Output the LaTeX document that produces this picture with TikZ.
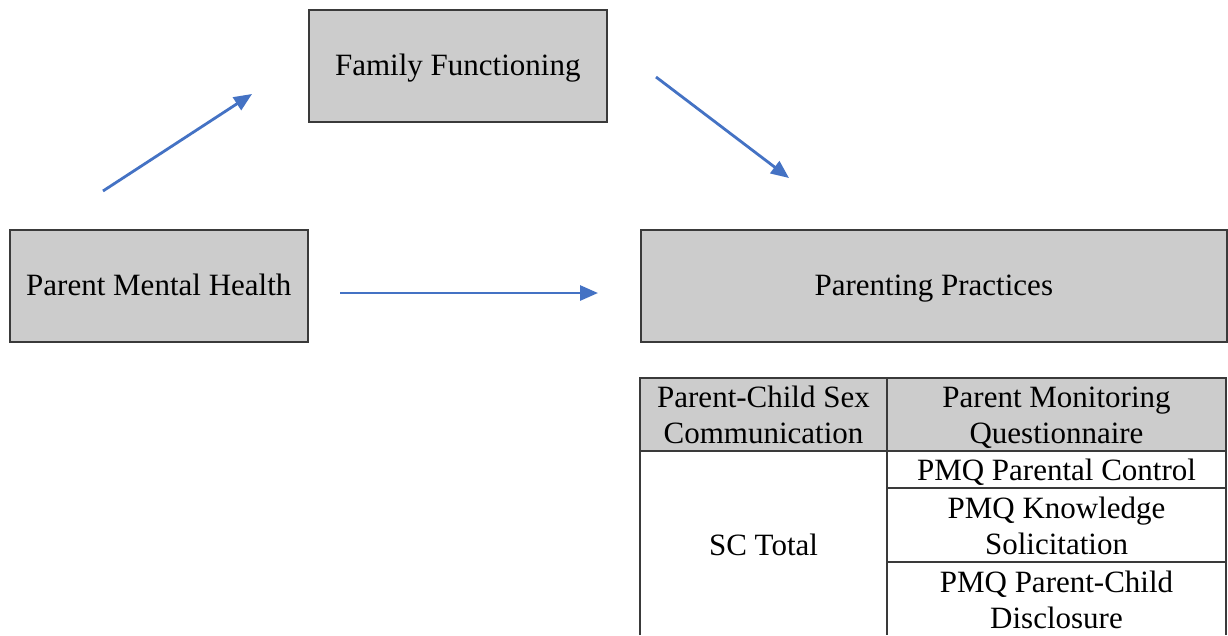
\documentclass[tikz,border=0pt]{standalone}
\usepackage{fontspec}
\setmainfont{Liberation Serif}
\usetikzlibrary{arrows.meta}
\definecolor{boxgray}{HTML}{CCCCCC}
\definecolor{edgegray}{HTML}{3A3A3A}
\definecolor{arrowblue}{HTML}{4472C4}
\begin{document}
\begin{tikzpicture}[x=1pt,y=-1pt,
  box/.style={draw=edgegray,line width=1.6pt,fill=boxgray,anchor=north west,
    minimum width=#1,minimum height=112pt,inner sep=0pt,
    text height=21pt,text depth=2pt,
    font=\fontsize{31}{36}\selectfont},
  box/.default=298pt,
  path/.style={draw=arrowblue,line width=2.8pt,-{Triangle[length=18pt,width=15pt]}},
  grid/.style={draw=edgegray,line width=1.3pt},
  cell/.style={align=center,inner sep=0pt,font=\fontsize{31}{36}\selectfont}]
\useasboundingbox (0,0) rectangle (1228,635);
\fill[white] (0,0) rectangle (1228,635);
% boxes
\node[box] (ff) at (308,9) {Family Functioning};
\node[box] (pmh) at (9,229) {Parent Mental Health};
\node[box=586pt] (pp) at (640,229) {Parenting Practices};
% arrow end points
\coordinate (a1s) at (103,191);
\coordinate (a1e) at (252,94);
\coordinate (a2s) at (656,77);
\coordinate (a2e) at (789,178);
\coordinate (a3s) at (340,293);
\coordinate (a3e) at (598,293);
\draw[path] (a1s) -- (a1e);
\draw[path] (a2s) -- (a2e);
\draw[path] (a3s) -- (a3e);
% table
\fill[boxgray] (640,378) rectangle (1226,451);
\draw[grid] (640,635) -- (640,378) -- (1226,378) -- (1226,635);
\draw[grid] (887,378) -- (887,635);
\draw[grid] (640,451) -- (1226,451);
\draw[grid] (887,488) -- (1226,488);
\draw[grid] (887,562) -- (1226,562);
\node[cell] (h1) at (763.5,415) {Parent-Child Sex\\Communication};
\node[cell] (h2) at (1056.5,418) {Parent Monitoring\\Questionnaire};
\node[cell] (sc) at (763.5,545) {SC Total};
\node[cell] (r1) at (1056.5,472) {PMQ Parental Control};
\node[cell] (r2) at (1056.5,526) {PMQ Knowledge\\Solicitation};
\node[cell] (r3) at (1056.5,600) {PMQ Parent-Child\\Disclosure};
\end{tikzpicture}
\end{document}
